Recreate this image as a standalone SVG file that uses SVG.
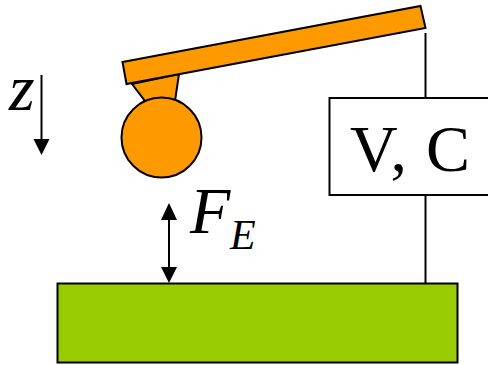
<svg xmlns="http://www.w3.org/2000/svg" width="488" height="365" viewBox="0 0 488 365">
<style>
.s{stroke:#000;stroke-width:2;stroke-linejoin:miter}
.o{fill:#f90}
.l{fill:none;stroke:#000;stroke-width:2}
.t{font-family:"Liberation Serif",serif;fill:#000}
.i{font-style:italic}
.a{fill:#000;stroke:none}
</style>
<rect width="488" height="365" fill="#fff"/>
<g id="connectors">
<line class="l" x1="425.500" y1="33" x2="425.500" y2="98"/>
<line class="l" x1="425.500" y1="193" x2="425.500" y2="283"/>
<line class="l" x1="41.500" y1="75" x2="41.500" y2="140"/>
<polygon class="a" points="33.500,139 49.500,139 41.500,155"/>
<line class="l" x1="169" y1="215" x2="169" y2="270"/>
<polygon class="a" points="169,203 161,220 177,220"/>
<polygon class="a" points="169,283 161,267 177,267"/>
</g>
<g id="tip">
<polygon class="s o" points="132,84 179,74 175,101 145,101"/>
<circle class="s o" cx="161.500" cy="137.500" r="40"/>
</g>
<g id="cantilever">
<polygon class="s o" points="122.500,62 420.500,6 425.500,28 126.500,84"/>
</g>
<g id="vc-box">
<rect x="329.500" y="98" width="170" height="97" fill="#fff" stroke="#000" stroke-width="2"/>
<text class="t" x="350" y="171" font-size="66" textLength="120" lengthAdjust="spacing">V, C</text>
</g>
<g id="sample">
<rect class="s" x="57.500" y="283.500" width="400" height="79" fill="#9c0"/>
</g>
<g id="labels">
<text class="t i" x="9" y="110" font-size="66">z</text>
<text class="t i" x="190" y="233" font-size="66">F</text>
<text class="t i" x="230" y="249" font-size="42">E</text>
</g>
</svg>
